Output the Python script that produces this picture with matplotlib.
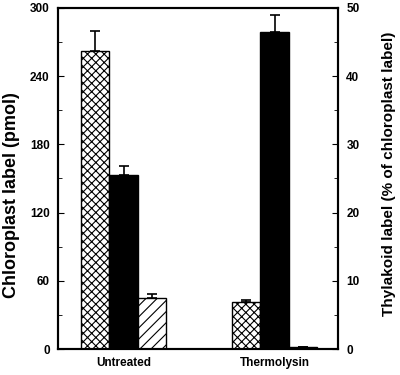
import matplotlib
import matplotlib.pyplot as plt
import numpy as np

matplotlib.use("Agg")

groups = ["Untreated", "Thermolysin"]
crosshatch_vals = [262, 41]
crosshatch_err = [18, 2.5]
black_vals = [153, 279]
black_err = [8, 15]
diag_vals = [45, 1.5]
diag_err = [3.5, 0.6]

plt.rcParams["font.family"] = ["Liberation Sans", "DejaVu Sans"]
plt.rcParams["font.weight"] = "bold"
plt.rcParams["hatch.linewidth"] = 0.8

fig = plt.figure(figsize=(4, 3.75), dpi=100)
ax = fig.add_axes([0.145, 0.069, 0.70, 0.91])

x = np.arange(len(groups))
w = 0.189
err_kw = dict(ecolor="black", capsize=3.5, elinewidth=1.2, capthick=1.2)

ax.bar(x - w, crosshatch_vals, w, color="white", edgecolor="black", hatch="xxxx",
       linewidth=1.0, yerr=[np.zeros(2), crosshatch_err], error_kw=err_kw)
ax.bar(x, black_vals, w, color="black", edgecolor="black",
       linewidth=1.0, yerr=[np.zeros(2), black_err], error_kw=err_kw)
ax.bar(x + w, diag_vals, w, color="white", edgecolor="black", hatch="///",
       linewidth=1.0, yerr=[np.zeros(2), diag_err], error_kw=err_kw)

ax.set_xlim(-0.434, 1.42)
ax.set_ylim(0, 300)
ax.set_yticks([0, 60, 120, 180, 240, 300])
ax.set_yticks(np.arange(30, 300, 60), minor=True)
ax.set_xticks(x)
ax.set_xticklabels(groups, fontsize=8.5, fontweight="bold")
ax.tick_params(axis="x", length=0, pad=6)
ax.tick_params(axis="y", which="both", direction="in", labelsize=8.5, pad=6)
ax.tick_params(axis="y", which="major", length=4)
ax.tick_params(axis="y", which="minor", length=3)
ax.set_ylabel("Chloroplast label (pmol)", fontsize=13, fontweight="bold")
ax.yaxis.set_label_coords(-0.136, 0.45)

ax2 = ax.twinx()
ax2.set_ylim(0, 50)
ax2.set_yticks([0, 10, 20, 30, 40, 50])
ax2.set_yticks(np.arange(5, 50, 10), minor=True)
ax2.tick_params(axis="y", which="both", direction="in", labelsize=8.5, pad=6)
ax2.tick_params(axis="y", which="major", length=4)
ax2.tick_params(axis="y", which="minor", length=3)
ax2.set_ylabel("Thylakoid label (% of chloroplast label)", fontsize=11,
               fontweight="bold")
ax2.yaxis.set_label_coords(1.157, 0.515)

for a in (ax, ax2):
    for s in a.spines.values():
        s.set_linewidth(1.5)

fig.savefig("out.png", dpi=100)
